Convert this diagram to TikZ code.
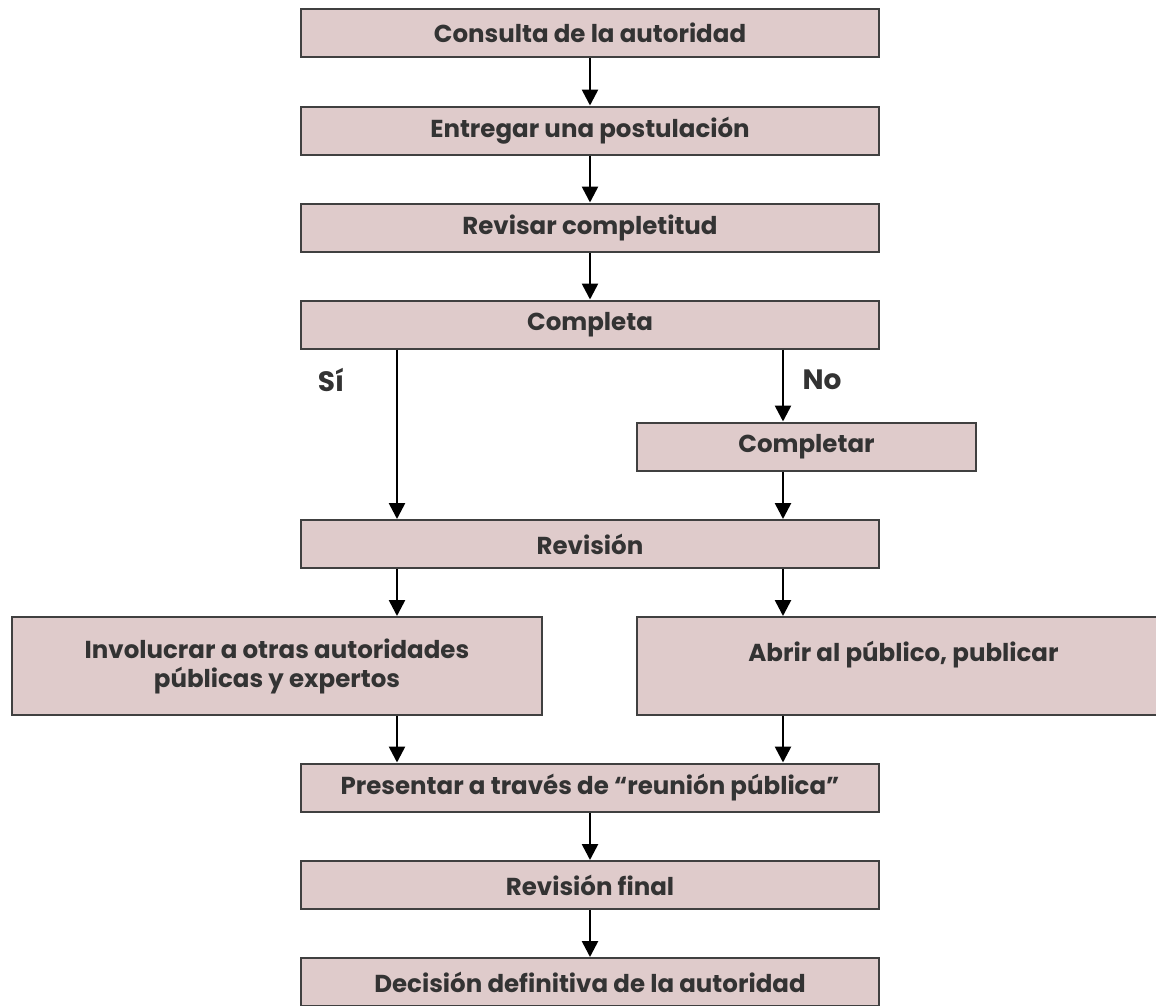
\documentclass[tikz,border=0pt]{standalone}
\usepackage{fontspec}
\setmainfont{Poppins}
\usepackage{xcolor}
\usetikzlibrary{arrows.meta}

\definecolor{cajafondo}{HTML}{DFCBCB}
\definecolor{cajaborde}{HTML}{404040}
\definecolor{texto}{HTML}{333333}

\begin{document}
\begin{tikzpicture}[x=1pt,y=-1pt,
  caja/.style={draw=cajaborde,fill=cajafondo,line width=2pt,inner sep=0pt,
    minimum width=578pt,minimum height=48pt,align=center,text=texto,
    font=\bfseries\fontsize{24.5}{29}\selectfont},
  rama/.style={font=\bfseries\fontsize{28}{32}\selectfont,text=texto},
  flecha/.style={line width=2.6pt,-{Triangle[width=16pt,length=16pt]}}]
\useasboundingbox (0,0) rectangle (1156,1005);
\node[caja] (consulta) at (590,33) {Consulta de la autoridad};
\node[caja] (entregar) at (590,130.5) {Entregar una postulación};
\node[caja] (revisar) at (590,227.5) {Revisar completitud};
\node[caja] (completa) at (590,324.5) {Completa};
\node[caja,minimum width=339pt] (completar) at (806.5,446.5) {Completar};
\node[caja] (revision) at (590,544) {Revisión};
\node[caja,minimum width=530pt,minimum height=98pt] (involucrar) at (277,666)
  {Involucrar a otras autoridades\\públicas y expertos};
\node[caja,minimum width=533pt,minimum height=98pt] (abrir) at (903.5,666)
  {Abrir al público, publicar\\~};
\node[caja] (presentar) at (590,787.5) {Presentar a través de “reunión pública”};
\node[caja] (final) at (590,885) {Revisión final};
\node[caja] (decision) at (590,982) {Decisión definitiva de la autoridad};
\node[rama] (si) at (331,380) {Sí};
\node[rama] (no) at (822,380) {No};
\coordinate (izq) at (397,0);
\coordinate (der) at (783,0);
\path[flecha]
  (consulta) edge (entregar)
  (entregar) edge (revisar)
  (revisar) edge (completa)
  (completa.south -| izq) edge (revision.north -| izq)
  (completa.south -| der) edge (completar.north -| der)
  (completar.south -| der) edge (revision.north -| der)
  (revision.south -| izq) edge (involucrar.north -| izq)
  (revision.south -| der) edge (abrir.north -| der)
  (involucrar.south -| izq) edge (presentar.north -| izq)
  (abrir.south -| der) edge (presentar.north -| der)
  (presentar) edge (final)
  (final) edge (decision);
\end{tikzpicture}
\end{document}
